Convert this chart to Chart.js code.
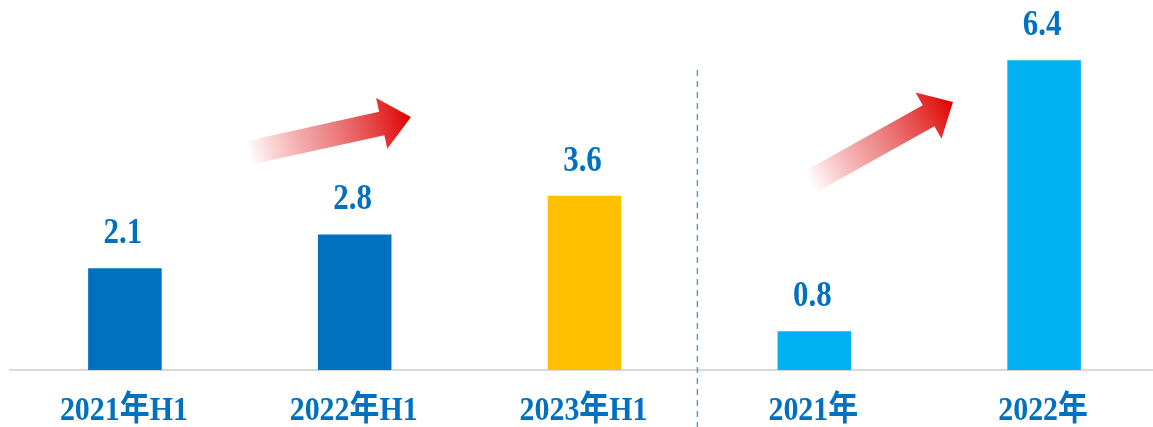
<!DOCTYPE html>
<html>
<head>
<meta charset="utf-8">
<script src="https://cdn.jsdelivr.net/npm/chart.js@4/dist/chart.umd.min.js"></script>
<style>
html,body{margin:0;padding:0;background:#fff;overflow:hidden;width:1153px;height:427px;}
#wrap{width:1159px;height:427px;position:relative;}
</style>
</head>
<body>
<div id="wrap"><canvas id="c"></canvas></div>
<script>
const categories = ['2021年H1', '2022年H1', '2023年H1', '2021年', '2022年'];
const values = [2.1, 2.8, 3.6, 0.8, 6.4];
const barColors = ['#0070c0', '#0070c0', '#ffc000', '#00b0f0', '#00b0f0'];

const LABEL_BLUE = '#0070c0';
const FONT = "'Liberation Serif', 'Noto Sans CJK SC', serif";

function drawArrow(ctx, x0, y0, x1, y1, sw, hw, hl) {
  const dx = x1 - x0, dy = y1 - y0;
  const len = Math.sqrt(dx * dx + dy * dy);
  const ang = Math.atan2(dy, dx);
  ctx.save();
  ctx.translate(x0, y0);
  ctx.rotate(ang);
  const g = ctx.createLinearGradient(0, 0, len, 0);
  g.addColorStop(0, 'rgba(230,30,30,0)');
  g.addColorStop(0.45, 'rgba(226,70,70,0.6)');
  g.addColorStop(1, 'rgba(224,0,0,1)');
  ctx.fillStyle = g;
  ctx.beginPath();
  ctx.moveTo(0, -sw / 2);
  ctx.lineTo(len - hl, -sw / 2);
  ctx.lineTo(len - hl, -hw / 2);
  ctx.lineTo(len, 0);
  ctx.lineTo(len - hl, hw / 2);
  ctx.lineTo(len - hl, sw / 2);
  ctx.lineTo(0, sw / 2);
  ctx.closePath();
  ctx.fill();
  ctx.restore();
}

const decor = {
  id: 'decor',
  afterDraw(chart) {
    const ctx = chart.ctx;
    const xs = chart.scales.x;
    // dashed divider between the H1 group and the annual group
    const xd = (xs.getPixelForTick(2) + xs.getPixelForTick(3)) / 2 - 2;
    ctx.save();
    ctx.strokeStyle = '#5b9bd5';
    ctx.lineWidth = 1.5;
    ctx.setLineDash([6, 5]);
    ctx.beginPath();
    ctx.moveTo(xd, 70);
    ctx.lineTo(xd, 427);
    ctx.stroke();
    ctx.restore();

    // arrows
    drawArrow(ctx, 248, 153, 411, 117, 24, 52, 30);
    drawArrow(ctx, 810, 182, 953, 102, 24, 53, 28);

    // value labels
    const meta = chart.getDatasetMeta(0);
    ctx.save();
    ctx.fillStyle = LABEL_BLUE;
    ctx.textAlign = 'center';
    ctx.textBaseline = 'alphabetic';
    ctx.font = 'bold 36px ' + FONT;
    meta.data.forEach((bar, i) => {
      ctx.save();
      ctx.translate(bar.x - 2, bar.y - 25);
      ctx.scale(0.86, 1);
      ctx.fillText(values[i].toFixed(1), 0, 0);
      ctx.restore();
    });
    // category labels
    ctx.font = 'bold 34px ' + FONT;
    categories.forEach((c, i) => {
      const x = xs.getPixelForTick(i);
      ctx.save();
      ctx.translate(x - 1, 420);
      ctx.scale(0.88, 1);
      ctx.fillText(c, 0, 0);
      ctx.restore();
    });
    ctx.restore();
  }
};

new Chart(document.getElementById('c'), {
  type: 'bar',
  data: {
    labels: categories,
    datasets: [{
      data: values,
      backgroundColor: barColors,
      borderWidth: 0,
      barPercentage: 0.32,
      categoryPercentage: 1.0
    }]
  },
  options: {
    responsive: true,
    maintainAspectRatio: false,
    animation: false,
    layout: { padding: { left: 10, right: 0, top: 7, bottom: 0 } },
    plugins: { legend: { display: false }, tooltip: { enabled: false } },
    scales: {
      x: {
        grid: { display: false, drawTicks: false },
        border: { display: true, color: '#d9d9d9', width: 2 },
        ticks: { display: false },
        afterFit(scale) { scale.height = 57; }
      },
      y: {
        display: false,
        min: 0,
        max: 7.5
      }
    }
  },
  plugins: [decor]
});
</script>
</body>
</html>
